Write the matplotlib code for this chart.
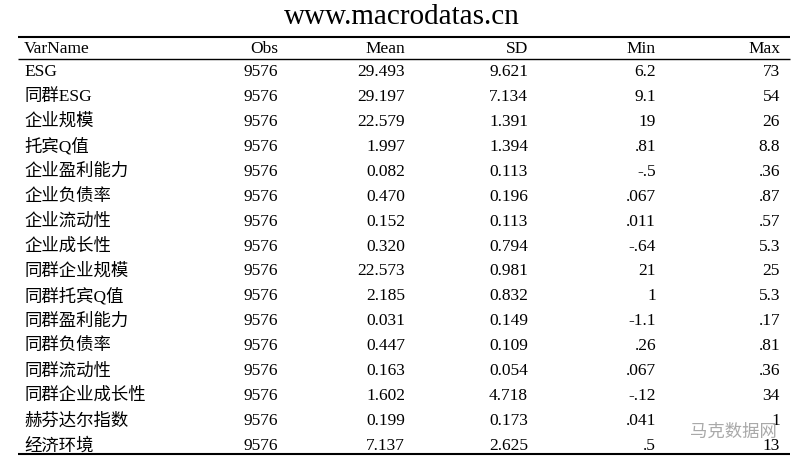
import matplotlib
matplotlib.use("Agg")
import matplotlib.pyplot as plt

fam = ['Liberation Serif', 'Noto Sans CJK SC', 'DejaVu Sans']
title = "www.macrodatas.cn"
headers = ["VarName", "Obs", "Mean", "SD", "Min", "Max"]
varnames = ["ESG", "同群ESG", "企业规模", "托宾Q值", "企业盈利能力", "企业负债率", "企业流动性",
            "企业成长性", "同群企业规模", "同群托宾Q值", "同群盈利能力", "同群负债率", "同群流动性",
            "同群企业成长性", "赫芬达尔指数", "经济环境"]
obs = ["9576"] * 16
mean = ["29.493", "29.197", "22.579", "1.997", "0.082", "0.470", "0.152", "0.320", "22.573",
        "2.185", "0.031", "0.447", "0.163", "1.602", "0.199", "7.137"]
sd = ["9.621", "7.134", "1.391", "1.394", "0.113", "0.196", "0.113", "0.794", "0.981",
      "0.832", "0.149", "0.109", "0.054", "4.718", "0.173", "2.625"]
mn = ["6.2", "9.1", "19", ".81", "-.5", ".067", ".011", "-.64", "21", "1", "-1.1", ".26",
      ".067", "-.12", ".041", ".5"]
mx = ["73", "54", "26", "8.8", ".36", ".87", ".57", "5.3", "25", "5.3", ".17", ".81", ".36",
      "34", "1", "13"]

W, H = 805, 464
fig = plt.figure(figsize=(W / 100, H / 100), dpi=100)
ax = fig.add_axes([0, 0, 1, 1])
ax.set_xlim(0, W)
ax.set_ylim(H, 0)
ax.axis('off')

fs = 12.5
ax.text(402, 17, title, ha='center', va='center', fontsize=21, family=fam)
for y, lw in [(38, 1.5), (60, 1.0), (455, 1.5)]:
    ax.plot([18, 790], [y, y], color='black', lw=lw, solid_capstyle='butt')

rx = [278, 405, 528, 656, 780]
ax.text(24, 49, headers[0], ha='left', va='center', fontsize=fs, family=fam)
for x, h in zip(rx, headers[1:]):
    ax.text(x, 49, h, ha='right', va='center', fontsize=fs, family=fam)

cols = [obs, mean, sd, mn, mx]
for i, name in enumerate(varnames):
    y = 72 + i * 24.93
    ax.text(24, y, name, ha='left', va='center', fontsize=fs, family=fam)
    for x, c in zip(rx, cols):
        ax.text(x, y, c[i], ha='right', va='center', fontsize=fs, family=fam)

ax.text(733, 432, "马克数据网", ha='center', va='center', fontsize=12.5,
        family=['Noto Sans CJK SC'], color='#a0a0a0', alpha=0.9)

fig.savefig("out.png", dpi=100)
